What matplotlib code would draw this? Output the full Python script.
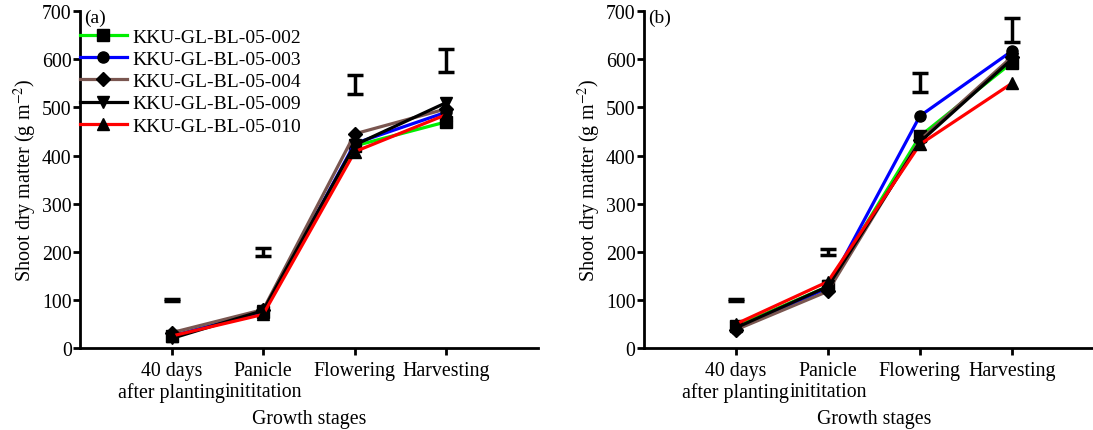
import matplotlib
matplotlib.use('Agg')
import matplotlib.pyplot as plt
import numpy as np

plt.rcParams['font.family'] = ['Liberation Serif', 'DejaVu Serif']
plt.rcParams['mathtext.fontset'] = 'stix'

stages = ['40 days\nafter planting', 'Panicle\ninititation', 'Flowering', 'Harvesting']
lines = ['KKU-GL-BL-05-002', 'KKU-GL-BL-05-003', 'KKU-GL-BL-05-004',
         'KKU-GL-BL-05-009', 'KKU-GL-BL-05-010']

# panel (a)
a_002 = [25, 75, 420, 470]
a_003 = [25, 75, 425, 490]
a_004 = [32, 80, 445, 497]
a_009 = [20, 78, 422, 510]
a_010 = [25, 70, 408, 485]
a_lsd_center = [100, 200, 548, 598]
a_lsd_half = [3, 8, 20, 24]

# panel (b)
b_002 = [45, 128, 440, 593]
b_003 = [40, 125, 482, 617]
b_004 = [38, 118, 432, 605]
b_009 = [42, 128, 428, 600]
b_010 = [50, 138, 423, 550]
b_lsd_center = [100, 200, 552, 660]
b_lsd_half = [2, 6, 20, 25]

colors = ['#00ee00', '#0000ff', '#7a5650', '#000000', '#ff0000']
markers = ['s', 'o', 'D', 'v', '^']
msizes = [8, 8, 7, 8, 8]

fig = plt.figure(figsize=(10.93, 4.31), dpi=100)
ax1 = fig.add_axes([0.0732, 0.190, 0.419, 0.782])
ax2 = fig.add_axes([0.589, 0.190, 0.421, 0.782])

x = np.arange(1, 5)

def draw(ax, series, lsd_c, lsd_h, tag, legend):
    for s, lab, c, m, ms in zip(series, lines, colors, markers, msizes):
        ax.plot(x, s, color=c, lw=2.3, marker=m, ms=ms, mfc='black',
                mec='black', label=lab)
    ax.errorbar(x, lsd_c, yerr=lsd_h, fmt='none', ecolor='black',
                elinewidth=2.5, capsize=6, capthick=2.5)
    ax.set_xlim(0, 5)
    ax.set_ylim(0, 700)
    ax.set_yticks(range(0, 701, 100))
    ax.set_xticks(x)
    ax.set_xticklabels(stages, fontsize=14.3, linespacing=1.2)
    ax.tick_params(axis='y', labelsize=14.3, width=2, length=5, pad=1)
    ax.tick_params(axis='x', width=2, length=5, pad=4)
    for sp in ['top', 'right']:
        ax.spines[sp].set_visible(False)
    for sp in ['left', 'bottom']:
        ax.spines[sp].set_linewidth(2)
    ax.set_ylabel(r'Shoot dry matter (g m$^{-2}$)', fontsize=14.5, labelpad=2)
    ax.set_xlabel('Growth stages', fontsize=14.3, labelpad=5)
    ax.text(0.01, 0.982, tag, transform=ax.transAxes, fontsize=14,
            va='center', ha='left')
    if legend:
        ax.legend(loc='upper left', bbox_to_anchor=(0.0, 0.95), frameon=False,
                  fontsize=14, borderaxespad=0, borderpad=0, handlelength=2.4,
                  handletextpad=0.3, labelspacing=0.24)

draw(ax1, [a_002, a_003, a_004, a_009, a_010], a_lsd_center, a_lsd_half, '(a)', True)
draw(ax2, [b_002, b_003, b_004, b_009, b_010], b_lsd_center, b_lsd_half, '(b)', False)

fig.savefig('out.png', dpi=100)
